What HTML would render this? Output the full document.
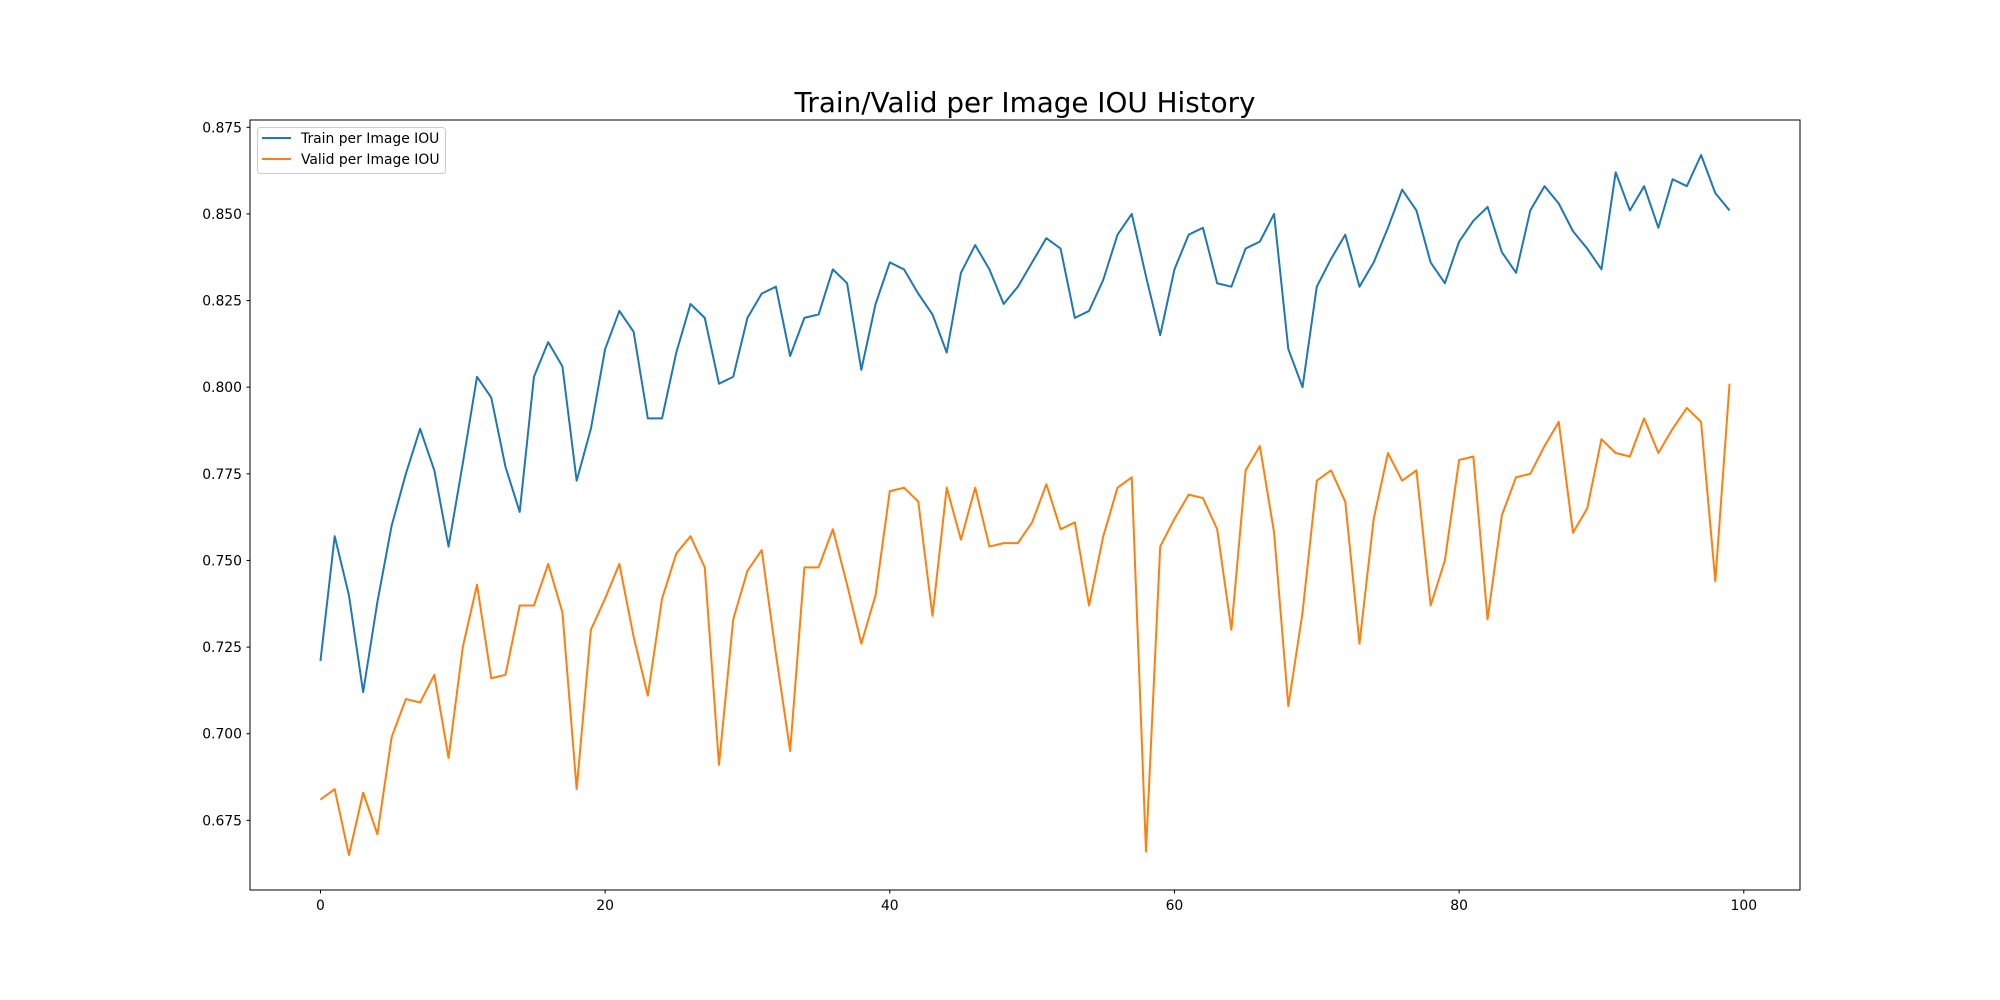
<!DOCTYPE html>
<html><head><meta charset="utf-8"><style>
body{margin:0;background:#fff}
svg{display:block;font-family:"DejaVu Sans","Liberation Sans",sans-serif}
</style></head><body>
<svg id="chart" width="2000" height="1000" xmlns="http://www.w3.org/2000/svg">
<rect width="2000" height="1000" fill="#fff"/>
<text x="1025" y="112" font-size="27.8" text-anchor="middle">Train/Valid per Image IOU History</text>
<g id="ticks"></g>
<g id="lines"></g>
<rect x="250" y="120" width="1550" height="770" fill="none" stroke="#000" stroke-width="1"/>
<g>
<rect x="257.5" y="127.5" width="188" height="46" rx="3" fill="#fff" fill-opacity="0.8" stroke="#ccc"/>
<line x1="262" y1="138" x2="291" y2="138" stroke="#1f77b4" stroke-width="2"/>
<text x="301" y="143" font-size="13.9">Train per Image IOU</text>
<line x1="262" y1="159" x2="291" y2="159" stroke="#ff7f0e" stroke-width="2"/>
<text x="301" y="164" font-size="13.9">Valid per Image IOU</text>
</g>
</svg>
<script>
const trainIou=[0.721,0.757,0.740,0.712,0.738,0.760,0.775,0.788,0.776,0.754,0.778,0.803,0.797,0.777,0.764,0.803,0.813,0.806,0.773,0.788,0.811,0.822,0.816,0.791,0.791,0.810,0.824,0.820,0.801,0.803,0.820,0.827,0.829,0.809,0.820,0.821,0.834,0.830,0.805,0.824,0.836,0.834,0.827,0.821,0.810,0.833,0.841,0.834,0.824,0.829,0.836,0.843,0.840,0.820,0.822,0.831,0.844,0.850,0.832,0.815,0.834,0.844,0.846,0.830,0.829,0.840,0.842,0.850,0.811,0.800,0.829,0.837,0.844,0.829,0.836,0.846,0.857,0.851,0.836,0.830,0.842,0.848,0.852,0.839,0.833,0.851,0.858,0.853,0.845,0.840,0.834,0.862,0.851,0.858,0.846,0.860,0.858,0.867,0.856,0.851];
const validIou=[0.681,0.684,0.665,0.683,0.671,0.699,0.710,0.709,0.717,0.693,0.725,0.743,0.716,0.717,0.737,0.737,0.749,0.735,0.684,0.730,0.739,0.749,0.728,0.711,0.739,0.752,0.757,0.748,0.691,0.733,0.747,0.753,0.723,0.695,0.748,0.748,0.759,0.743,0.726,0.740,0.770,0.771,0.767,0.734,0.771,0.756,0.771,0.754,0.755,0.755,0.761,0.772,0.759,0.761,0.737,0.757,0.771,0.774,0.666,0.754,0.762,0.769,0.768,0.759,0.730,0.776,0.783,0.758,0.708,0.735,0.773,0.776,0.767,0.726,0.762,0.781,0.773,0.776,0.737,0.750,0.779,0.780,0.733,0.763,0.774,0.775,0.783,0.790,0.758,0.765,0.785,0.781,0.780,0.791,0.781,0.788,0.794,0.790,0.744,0.801];
const xTicks=[0,20,40,60,80,100];
const yTicks=[0.675,0.700,0.725,0.750,0.775,0.800,0.825,0.850,0.875];
const NS="http://www.w3.org/2000/svg";
const all=trainIou.concat(validIou);
const n=trainIou.length;
const xmin=-0.05*(n-1),xmax=(n-1)*1.05;
const dmin=Math.min(...all),dmax=Math.max(...all),pad=(dmax-dmin)*0.05;
const ymin=dmin-pad,ymax=dmax+pad;
const X=v=>250+(v-xmin)/(xmax-xmin)*1550;
const Y=v=>890-(v-ymin)/(ymax-ymin)*770;
const tg=document.getElementById('ticks');
function mk(t,a,p){const e=document.createElementNS(NS,t);for(const k in a)e.setAttribute(k,a[k]);p.appendChild(e);return e;}
xTicks.forEach(t=>{const x=X(t);
mk('line',{x1:x,y1:890,x2:x,y2:893.5,stroke:'#000'},tg);
const l=mk('text',{x:x,y:910,'font-size':13.9,'text-anchor':'middle'},tg);l.textContent=t;

});
yTicks.forEach(t=>{const y=Y(t);
mk('line',{x1:246.5,y1:y,x2:250,y2:y,stroke:'#000'},tg);
const l=mk('text',{x:242,y:y+5,'font-size':13.9,'text-anchor':'end'},tg);l.textContent=t.toFixed(3);

});
const lg=document.getElementById('lines');
[[trainIou,'#1f77b4','train-line'],[validIou,'#ff7f0e','valid-line']].forEach(([d,c,nm])=>{
const p=mk('polyline',{points:d.map((v,i)=>X(i)+','+Y(v)).join(' '),fill:'none',stroke:c,'stroke-width':2,'stroke-linejoin':'round'},lg);

});
</script>
</body></html>
